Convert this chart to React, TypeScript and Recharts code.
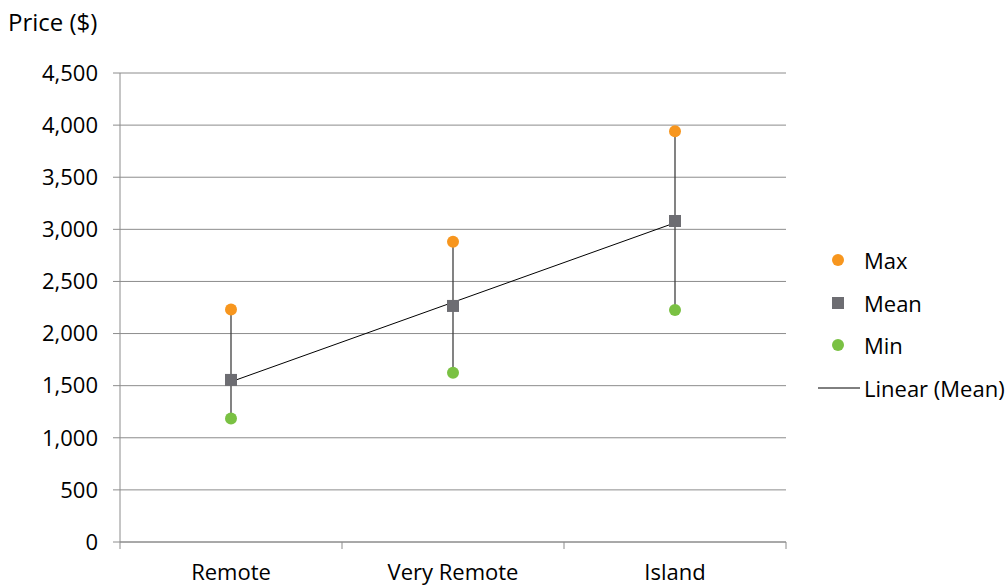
import React from 'react';
import { ComposedChart, Line, XAxis, YAxis, CartesianGrid, ErrorBar } from 'recharts';

const categories = ['Remote', 'Very Remote', 'Island'];
const maxValues = [2230, 2880, 3940];
const meanValues = [1555, 2265, 3080];
const minValues = [1185, 1625, 2225];
const yTicks = [0, 500, 1000, 1500, 2000, 2500, 3000, 3500, 4000, 4500];
const xTicks = [0.5, 1, 1.5, 2, 2.5, 3, 3.5];

const colors = { max: '#F7961E', mean: '#6D6D72', min: '#7AC143', trend: '#000000' };
const font = '"Open Sans", sans-serif';
const gridColor = '#8C8C8C';

// least squares fit of the mean series (Excel "Linear (Mean)" trendline)
const n = meanValues.length;
const xs = meanValues.map((_, i) => i + 1);
const xBar = xs.reduce((a, b) => a + b, 0) / n;
const yBar = meanValues.reduce((a, b) => a + b, 0) / n;
const slope =
  xs.reduce((s, x, i) => s + (x - xBar) * (meanValues[i] - yBar), 0) /
  xs.reduce((s, x) => s + (x - xBar) * (x - xBar), 0);
const intercept = yBar - slope * xBar;

const data = categories.map((name, i) => ({
  x: i + 1,
  name,
  max: maxValues[i],
  mean: meanValues[i],
  min: minValues[i],
  err: [meanValues[i] - minValues[i], maxValues[i] - meanValues[i]],
  trend: intercept + slope * (i + 1),
}));

const circleDot = (color: string) => (props: any) => {
  const { cx, cy, key } = props;
  return <circle key={key} cx={cx} cy={cy} r={6} fill={color} stroke="none" />;
};

const squareDot = (props: any) => {
  const { cx, cy, key } = props;
  return <rect key={key} x={cx - 6} y={cy - 6} width={12} height={12} fill={colors.mean} stroke="none" />;
};

const XTick = (props: any) => {
  const { x, y, payload } = props;
  const v = payload.value;
  if (Number.isInteger(v)) {
    return (
      <text x={x} y={y} dy={31} textAnchor="middle" fill="#000" fontSize={22} fontFamily={font}>
        {categories[v - 1]}
      </text>
    );
  }
  return <line x1={x} x2={x} y1={y - 7} y2={y} stroke={gridColor} />;
};

const legendItems = [
  { name: 'Max', kind: 'circle', color: colors.max },
  { name: 'Mean', kind: 'square', color: colors.mean },
  { name: 'Min', kind: 'circle', color: colors.min },
  { name: 'Linear (Mean)', kind: 'line', color: colors.trend },
];

const App = () => {
  return (
    <div style={{ position: 'absolute', left: 0, top: 0, width: 1008, height: 585, background: '#fff', fontFamily: font }}>
      <div style={{ position: 'absolute', left: 8, top: 6, fontSize: 24, color: '#000', lineHeight: '32px' }}>Price ($)</div>
      <ComposedChart width={1008} height={585} data={data} margin={{ top: 73, right: 222, left: 8, bottom: 0 }}>
        <CartesianGrid vertical={false} stroke={gridColor} strokeWidth={1} />
        <XAxis
          dataKey="x"
          type="number"
          domain={[0.5, 3.5]}
          ticks={xTicks}
          interval={0}
          tickLine={false}
          tickSize={7}
          tickMargin={0}
          axisLine={{ stroke: gridColor }}
          tick={<XTick />}
          height={43}
        />
        <YAxis
          domain={[0, 4500]}
          ticks={yTicks}
          interval={0}
          width={112}
          tickSize={7}
          tickMargin={15}
          tickLine={{ stroke: gridColor }}
          axisLine={{ stroke: gridColor }}
          tickFormatter={(v: number) => v.toLocaleString('en-US')}
          tick={{ fill: '#000', fontSize: 22, fontFamily: font }}
        />
        <Line isAnimationActive={false} dataKey="mean" name="Mean" stroke="none" dot={squareDot} activeDot={false}>
          <ErrorBar dataKey="err" direction="y" width={0} stroke="#404040" strokeWidth={1.3} />
        </Line>
        <Line isAnimationActive={false} dataKey="max" name="Max" stroke="none" dot={circleDot(colors.max)} activeDot={false} />
        <Line isAnimationActive={false} dataKey="min" name="Min" stroke="none" dot={circleDot(colors.min)} activeDot={false} />
        <Line isAnimationActive={false} dataKey="trend" name="Linear (Mean)" stroke={colors.trend} strokeWidth={1} dot={false} activeDot={false} />
      </ComposedChart>
      <div style={{ position: 'absolute', left: 818, top: 239, fontSize: 22, color: '#000' }}>
        {legendItems.map((item) => (
          <div key={item.name} style={{ display: 'flex', alignItems: 'center', height: 42.5 }}>
            <svg width={46} height={20}>
              {item.kind === 'circle' && <circle cx={20} cy={10} r={6} fill={item.color} />}
              {item.kind === 'square' && <rect x={14} y={4} width={12} height={12} fill={item.color} />}
              {item.kind === 'line' && <line x1={0} x2={42} y1={10} y2={10} stroke={item.color} strokeWidth={1} />}
            </svg>
            <span style={{ whiteSpace: 'nowrap' }}>{item.name}</span>
          </div>
        ))}
      </div>
    </div>
  );
};

export default App;
